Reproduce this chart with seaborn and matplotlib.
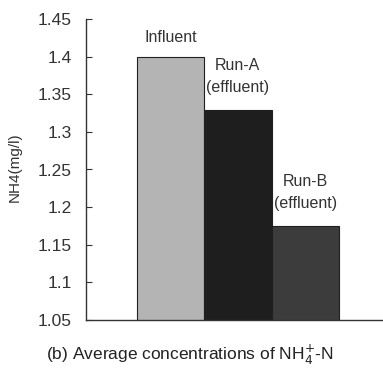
import matplotlib
matplotlib.use("Agg")
import matplotlib.pyplot as plt
import seaborn as sns
import pandas as pd

categories = ["Influent", "Run-A\n(effluent)", "Run-B\n(effluent)"]
values = [1.40, 1.329, 1.175]
colors = ["#b4b4b4", "#1e1e1e", "#3c3c3c"]
yticks = [1.05, 1.1, 1.15, 1.2, 1.25, 1.3, 1.35, 1.4, 1.45]
ytick_labels = ["1.05", "1.1", "1.15", "1.2", "1.25", "1.3", "1.35", "1.4", "1.45"]

sns.set_style("white")
plt.rcParams['font.family'] = ['Liberation Sans', 'DejaVu Sans']

df = pd.DataFrame({"cat": categories, "val": values})

fig = plt.figure(figsize=(3.83, 3.77), dpi=100)
ax = fig.add_axes([86/383, 1 - 320/377, 1 - 86/383, (320 - 19)/377])

sns.barplot(data=df, x="cat", y="val", hue="cat", palette=colors, legend=False,
            width=1.0, edgecolor="#202020", linewidth=0.8, ax=ax)

ax.set_ylim(1.05, 1.45)
ax.set_xlim(-1.25, 3.15)
ax.set_yticks(yticks)
ax.set_yticklabels(ytick_labels, fontsize=12.5, color="#333333")
ax.set_xticks([])
ax.set_xlabel("")
ax.set_ylabel("")
fig.text(15/383, 1 - 167/377, "NH4(mg/l)", rotation=90, ha="center", va="center",
         fontsize=11, color="#333333")
ax.tick_params(axis="y", direction="in", length=4, width=0.8, color="#333333", pad=10, left=True)
for s in ["top", "right"]:
    ax.spines[s].set_visible(False)
for s in ["left", "bottom"]:
    ax.spines[s].set_visible(True)
    ax.spines[s].set_color("#333333")
    ax.spines[s].set_linewidth(1.0)

for i, (c, v) in enumerate(zip(categories, values)):
    off = 0.02 if "\n" in c else 0.016
    ax.text(i, v + off, c, ha="center", va="bottom", fontsize=11.5,
            color="#333333", linespacing=1.6)

fig.text(190/383, 1 - 355/377, r"(b) Average concentrations of NH$_4^{+}$-N",
         ha="center", va="center", fontsize=12.5, color="#222222")

fig.savefig("out.png", dpi=100)
